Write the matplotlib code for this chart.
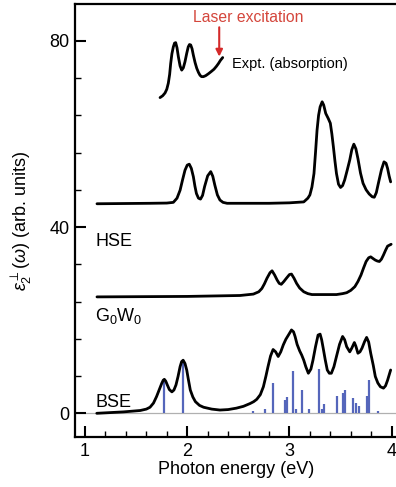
import matplotlib
matplotlib.use("Agg")
import matplotlib.pyplot as plt
from matplotlib.ticker import MultipleLocator

plt.rcParams['font.family'] = ['Liberation Sans', 'DejaVu Sans']
plt.rcParams['mathtext.fontset'] = 'custom'
plt.rcParams['mathtext.rm'] = 'Liberation Sans'
plt.rcParams['mathtext.it'] = 'Liberation Sans:italic'
plt.rcParams['mathtext.fallback'] = 'stixsans'

# ---- data ----
expt_x = [1.734, 1.76, 1.783, 1.80, 1.815, 1.828, 1.838, 1.85, 1.864, 1.876, 1.887,
          1.90, 1.913, 1.93, 1.946, 1.962, 1.978, 1.995, 2.01, 2.022, 2.034, 2.047,
          2.06, 2.077, 2.093, 2.11, 2.125, 2.14, 2.158, 2.18, 2.206, 2.235, 2.262,
          2.285, 2.305, 2.325, 2.347]
expt_y = [67.8, 68.2, 68.8, 69.6, 70.9, 72.8, 75.1, 77.2, 78.7, 79.5, 79.6,
          78.5, 76.6, 74.6, 73.7, 74.2, 75.5, 77.3, 78.7, 79.2, 79.1, 78.3,
          76.9, 75.3, 74.1, 73.2, 72.6, 72.3, 72.3, 72.5, 72.9, 73.4, 73.9,
          74.5, 75.1, 75.8, 76.4]

hse_x = [1.117, 1.636, 1.80, 1.864, 1.90, 1.93, 1.955, 1.978, 2.00, 2.02, 2.04, 2.06,
         2.075, 2.09, 2.11, 2.13, 2.15, 2.17, 2.20, 2.23, 2.25, 2.27, 2.295, 2.32,
         2.35, 2.39, 2.8, 3.0, 3.14, 3.18, 3.20, 3.22, 3.24, 3.255, 3.27, 3.285,
         3.30, 3.32, 3.335, 3.355, 3.38, 3.40, 3.415, 3.43, 3.445, 3.46, 3.48, 3.50,
         3.52, 3.54, 3.565, 3.59, 3.61, 3.63, 3.65, 3.67, 3.695, 3.72, 3.75, 3.78,
         3.81, 3.83, 3.85, 3.87, 3.90, 3.925, 3.945, 3.96, 3.975, 3.99]
hse_y = [45.0, 45.1, 45.15, 45.3, 46.2, 47.9, 50.2, 52.2, 53.3, 53.5, 52.6, 50.8,
         48.8, 47.2, 46.2, 46.0, 46.8, 48.7, 51.0, 51.9, 50.9, 49.0, 46.9, 45.8,
         45.3, 45.1, 45.1, 45.2, 45.4, 46.2, 46.9, 48.6, 51.5, 56.0, 60.8, 64.0,
         65.8, 66.9, 66.2, 64.4, 63.3, 62.3, 60.0, 57.2, 54.2, 51.5, 49.2, 48.5,
         48.9, 50.1, 52.2, 54.4, 56.6, 57.8, 56.8, 54.7, 51.6, 49.4, 48.0, 47.1,
         46.5, 46.4, 47.4, 49.4, 52.3, 54.0, 53.7, 52.6, 51.0, 49.7]

gw_x = [1.117, 2.0, 2.517, 2.647, 2.70, 2.73, 2.755, 2.78, 2.81, 2.83, 2.855, 2.88,
        2.90, 2.92, 2.945, 2.97, 3.00, 3.02, 3.045, 3.07, 3.10, 3.14, 3.18, 3.22,
        3.46, 3.52, 3.56, 3.60, 3.64, 3.67, 3.70, 3.725, 3.75, 3.775, 3.795, 3.82,
        3.84, 3.86, 3.88, 3.90, 3.92, 3.94, 3.96, 3.995]
gw_y = [25.0, 25.1, 25.3, 25.6, 26.1, 26.8, 27.8, 29.0, 30.2, 30.6, 29.7, 28.6,
        27.9, 27.7, 28.3, 29.0, 29.8, 29.9, 29.0, 27.9, 26.9, 26.1, 25.7, 25.5,
        25.5, 25.7, 25.9, 26.4, 27.2, 28.3, 29.7, 31.2, 32.6, 33.4, 33.6, 33.2,
        32.9, 32.7, 32.6, 33.1, 34.0, 35.0, 35.9, 36.3]

bse_x = [1.115, 1.375, 1.54, 1.60, 1.636, 1.67, 1.70, 1.725, 1.75, 1.765, 1.776, 1.79,
         1.805, 1.825, 1.85, 1.87, 1.89, 1.91, 1.93, 1.945, 1.96, 1.978, 1.995, 2.01,
         2.03, 2.055, 2.08, 2.12, 2.16, 2.24, 2.32, 2.40, 2.48, 2.55, 2.615, 2.65,
         2.68, 2.715, 2.745, 2.77, 2.79, 2.815, 2.84, 2.865, 2.89, 2.915, 2.94, 2.965,
         2.99, 3.02, 3.04, 3.055, 3.075, 3.10, 3.12, 3.14, 3.16, 3.185, 3.21, 3.23,
         3.255, 3.28, 3.30, 3.315, 3.33, 3.35, 3.37, 3.39, 3.41, 3.435, 3.46, 3.49,
         3.52, 3.54, 3.56, 3.59, 3.61, 3.635, 3.65, 3.67, 3.69, 3.71, 3.735, 3.755,
         3.775, 3.795, 3.82, 3.84, 3.865, 3.89, 3.92, 3.94, 3.96, 3.99]
bse_y = [0.0, 0.3, 0.6, 0.9, 1.3, 2.2, 3.6, 5.0, 6.4, 7.1, 7.3, 6.9,
         6.1, 5.1, 4.6, 5.0, 6.1, 7.9, 10.0, 11.1, 11.4, 10.7, 9.3, 7.4,
         5.0, 3.5, 2.5, 1.7, 1.3, 0.9, 0.7, 0.8, 1.1, 1.5, 2.1, 2.5,
         3.0, 4.0, 5.7, 8.0, 10.0, 12.3, 13.7, 13.2, 12.2, 13.2, 14.7, 15.9,
         16.8, 17.9, 17.5, 16.5, 14.8, 13.4, 12.5, 11.4, 10.0, 8.6, 9.5, 11.4,
         14.3, 16.8, 17.0, 15.8, 14.0, 11.5, 9.3, 8.6, 8.6, 10.0, 12.2, 14.8,
         16.5, 15.8, 14.3, 13.2, 14.0, 15.2, 14.4, 12.9, 13.2, 14.0, 15.4, 16.3,
         15.3, 12.9, 10.3, 7.9, 6.5, 5.7, 5.4, 5.9, 7.1, 9.3]

stick_x = [1.77, 1.96, 2.64, 2.76, 2.84, 2.96, 2.98, 3.03, 3.06, 3.12, 3.19, 3.29,
           3.32, 3.34, 3.47, 3.52, 3.54, 3.62, 3.65, 3.68, 3.76, 3.78, 3.87]
stick_h = [6.8, 11.0, 0.6, 0.9, 6.6, 2.8, 3.6, 9.1, 0.9, 5.0, 0.9, 9.6,
           1.0, 2.1, 3.7, 4.4, 5.0, 3.2, 2.3, 1.6, 3.7, 7.1, 0.4]

x_ticks = [1, 2, 3, 4]
y_ticks = [0, 40, 80]

# ---- figure ----
fig = plt.figure(figsize=(3.96, 4.87), dpi=100)
ax = fig.add_axes([75/396, 50/487, (398-75)/396, 433/487])

ax.axhline(0, color='#b0b0b0', lw=0.9, zorder=1)
ax.vlines(stick_x, 0, stick_h, colors='#5566bb', lw=1.6, zorder=2)

lw = 2.0
for xs, ys in [(expt_x, expt_y), (hse_x, hse_y), (gw_x, gw_y), (bse_x, bse_y)]:
    ax.plot(xs, ys, color='black', lw=lw, solid_capstyle='round',
            solid_joinstyle='round', zorder=3)

ax.set_xlim(0.902, 4.062)
ax.set_ylim(-5.09, 87.9)

ax.set_xticks(x_ticks)
ax.set_yticks(y_ticks)
ax.xaxis.set_minor_locator(MultipleLocator(0.2))
ax.yaxis.set_minor_locator(MultipleLocator(8))
ax.tick_params(which='major', direction='in', length=8, width=1.5, labelsize=13, pad=4)
ax.tick_params(which='minor', direction='in', length=4, width=1.0)
ax.tick_params(axis='y', which='major', pad=4)
ax.tick_params(top=False, right=False, which='both')
for s in ax.spines.values():
    s.set_linewidth(1.6)
ax.spines['right'].set_visible(False)

ax.set_xlabel('Photon energy (eV)', fontsize=13, labelpad=1)
ax.set_ylabel(r'$\varepsilon_2^{\perp}(\omega)$ (arb. units)', fontsize=13, labelpad=11)

ax.text(1.098, 36.8, 'HSE', fontsize=13, va='center', ha='left')
ax.text(1.098, 20.8, r'$\mathrm{G_0W_0}$', fontsize=13, va='center', ha='left')
ax.text(1.098, 2.4, 'BSE', fontsize=13, va='center', ha='left')

ax.text(2.60, 85.0, 'Laser excitation', fontsize=11.3, color='#d4463c',
        ha='center', va='center')
ax.annotate('', xy=(2.313, 76.6), xytext=(2.313, 82.9),
            arrowprops=dict(arrowstyle='-|>', color='#d42a2a', lw=1.5,
                            mutation_scale=10, shrinkA=0, shrinkB=0))
ax.text(2.435, 75.1, 'Expt. (absorption)', fontsize=10.5, ha='left', va='center')

fig.savefig('out.png', dpi=100)
